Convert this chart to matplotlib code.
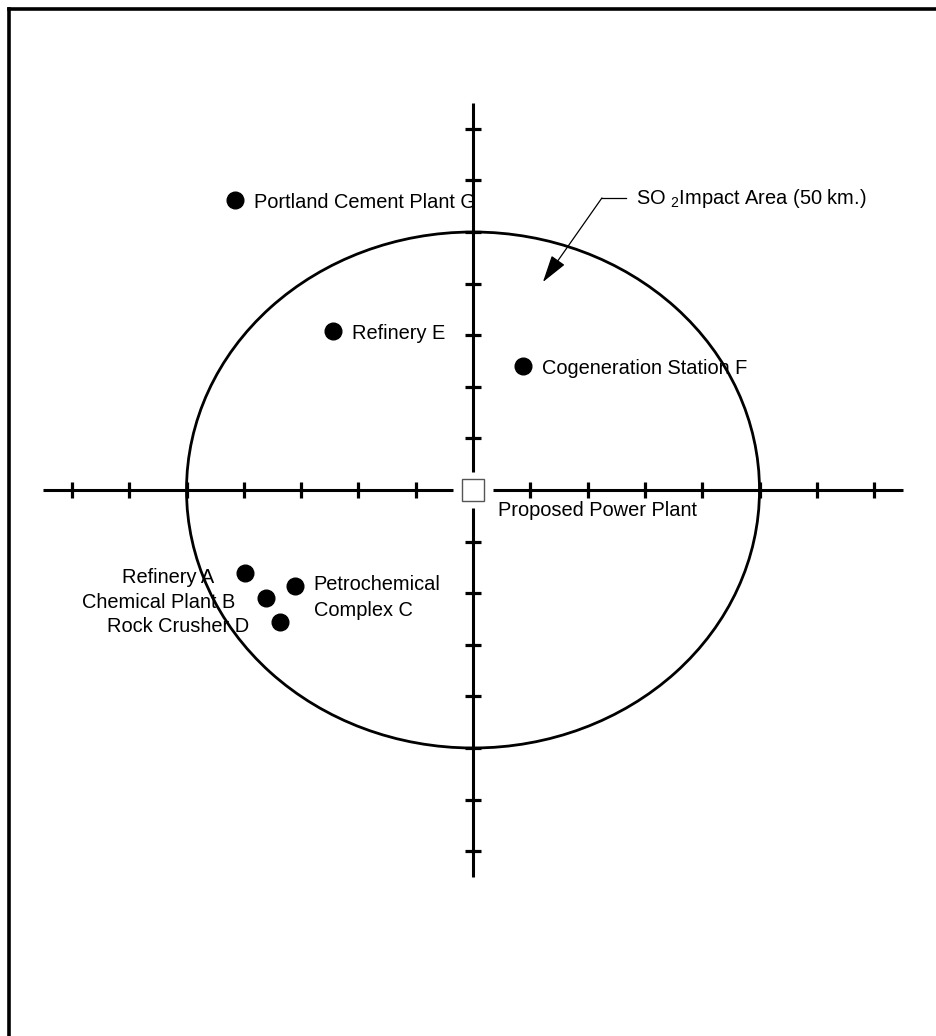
import numpy as np
import matplotlib
matplotlib.use("Agg")
import matplotlib.pyplot as plt
from matplotlib.patches import Ellipse

plt.rcParams['font.family'] = ['Liberation Sans', 'DejaVu Sans']
plt.rcParams['mathtext.fontset'] = 'custom'
plt.rcParams['mathtext.rm'] = 'Liberation Sans'
plt.rcParams['mathtext.it'] = 'Liberation Sans'

# source locations (km from proposed plant)
names = ['Portland Cement Plant G', 'Refinery E', 'Cogeneration Station F',
         'Refinery A', 'Petrochemical\nComplex C', 'Chemical Plant B',
         'Rock Crusher D']
xs = [-41.5, -24.4, 8.7, -39.8, -31.1, -36.1, -33.7]
ys = [56.2, 30.8, 24.0, -16.1, -18.6, -20.9, -25.6]
label_side = ['right', 'right', 'right', 'left', 'right', 'left', 'left']

ticks = [-70, -60, -50, -40, -30, -20, -10, 10, 20, 30, 40, 50, 60, 70]
axis_len = 75
impact_radius = 50

# pixel scale of the reference drawing
W, H = 937, 1036
cx, cy = 473, 490
sx, sy = 5.73, 5.16

fig = plt.figure(figsize=(W / 100, H / 100), dpi=100)
ax = fig.add_axes([0, 0, 1, 1])
ax.set_xlim(-cx / sx, (W - cx) / sx)
ax.set_ylim(-(H - cy) / sy, cy / sy)
ax.axis('off')

# frame
fig.add_artist(plt.Line2D([9.5 / W, 9.5 / W], [0, 1 - 8.5 / H], color='black', lw=2.6))
fig.add_artist(plt.Line2D([9.5 / W, 1], [1 - 8.5 / H, 1 - 8.5 / H], color='black', lw=2.6))

# axes lines with a gap around the plant
gap = 3.5
lw = 2.2
for s in (-1, 1):
    ax.plot([s * gap, s * axis_len], [0, 0], color='black', lw=lw, solid_capstyle='butt')
    ax.plot([0, 0], [s * gap, s * axis_len], color='black', lw=lw, solid_capstyle='butt')
ax.plot(ticks, np.zeros(len(ticks)), '|', ms=12, mew=2.3, color='black')
ax.plot(np.zeros(len(ticks)), ticks, '_', ms=12, mew=2.3, color='black')

# impact area
ax.add_patch(Ellipse((0, 0), 2 * impact_radius, 2 * impact_radius, fill=False,
                     ec='black', lw=2.0))

fs = 14.4

# proposed plant
ax.plot([0], [0], 's', ms=16, mfc='white', mec='#555555', mew=1.0)
ax.text(4.3, -3.9, 'Proposed Power Plant', fontsize=fs, ha='left', va='center')

for n, x, y, side in zip(names, xs, ys, label_side):
    ax.plot([x], [y], 'o', ms=12, color='black')
    if side == 'right':
        if '\n' in n:
            ax.text(x + 3.3, y - 2.3, n, fontsize=fs, ha='left', va='center',
                    linespacing=1.45)
        else:
            ax.text(x + 3.3, y - 0.5, n, fontsize=fs, ha='left', va='center')
    else:
        ax.text(x - 5.4, y - 0.9, n, fontsize=fs, ha='right', va='center')

# annotation with leader
ax.annotate('', xy=(12.2, 40.3), xytext=(22.5, 56.6),
            arrowprops=dict(arrowstyle='-|>,head_length=1.7,head_width=0.5',
                            color='black', lw=0.9, shrinkA=0, shrinkB=0))
ax.plot([22.5, 26.7], [56.6, 56.6], color='black', lw=0.9)
ax.text(28.5, 56.4, 'SO $_2$Impact Area (50 km.)', fontsize=fs, ha='left', va='center')

fig.savefig('out.png', dpi=100)
